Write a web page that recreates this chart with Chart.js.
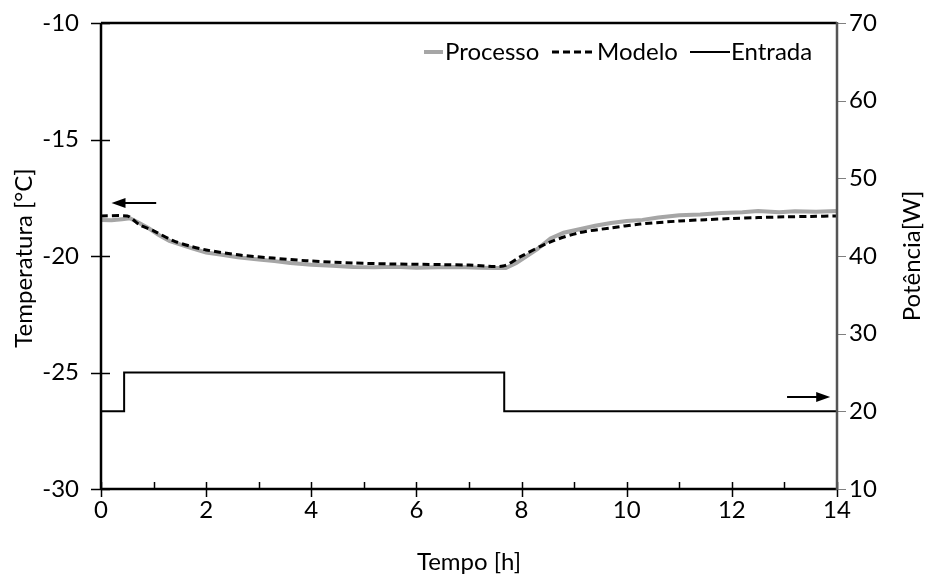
<!DOCTYPE html>
<html>
<head>
<meta charset="utf-8">
<script src="https://cdn.jsdelivr.net/npm/chart.js@4.4.0/dist/chart.umd.min.js"></script>
<style>
  html, body { margin: 0; padding: 0; background: #fff; }
</style>
</head>
<body>
<canvas id="chart" width="931" height="578"></canvas>
<script>
// Dados
const processTime = [0, 0.2, 0.4, 0.55, 0.7, 0.9, 1.1, 1.3, 1.5, 1.75, 2.0, 2.3, 2.6, 3.0, 3.3, 3.6, 4.0, 4.4, 4.8, 5.2, 5.6, 6.0, 6.4, 6.8, 7.2, 7.5, 7.7, 7.9, 8.1, 8.3, 8.55, 8.8, 9.1, 9.4, 9.7, 10.0, 10.3, 10.6, 11.0, 11.4, 11.8, 12.2, 12.5, 12.9, 13.2, 13.6, 14.0];
const processTemp = [-18.45, -18.47, -18.42, -18.38, -18.55, -18.8, -19.1, -19.35, -19.5, -19.68, -19.85, -19.95, -20.05, -20.15, -20.22, -20.3, -20.38, -20.42, -20.47, -20.48, -20.46, -20.5, -20.48, -20.47, -20.5, -20.52, -20.52, -20.3, -20.0, -19.7, -19.25, -19.0, -18.85, -18.7, -18.58, -18.5, -18.45, -18.35, -18.25, -18.22, -18.15, -18.12, -18.07, -18.12, -18.08, -18.1, -18.07];

const modelTime = [0, 0.5, 0.6, 0.74, 1.0, 1.37, 1.7, 2.0, 2.64, 3.27, 3.9, 4.8, 5.5, 6.5, 7.0, 7.65, 7.97, 8.54, 9.1, 9.68, 10.25, 11.0, 11.5, 12.0, 12.5, 13.0, 13.5, 14.0];
const modelTemp = [-18.28, -18.28, -18.42, -18.67, -18.92, -19.34, -19.58, -19.74, -19.96, -20.09, -20.2, -20.3, -20.34, -20.37, -20.39, -20.43, -20.04, -19.4, -19.0, -18.8, -18.63, -18.5, -18.44, -18.39, -18.35, -18.32, -18.3, -18.28];

const inputTime = [0, 0.44, 0.44, 7.67, 7.67, 14];
const inputPower = [20, 20, 25, 25, 20, 20];

const xTicks = [0, 2, 4, 6, 8, 10, 12, 14];
const xMinorTicks = [1, 3, 5, 7, 9, 11, 13];
const tempTicks = [-30, -25, -20, -15, -10];
const powerTicks = [10, 20, 30, 40, 50, 60, 70];

const FONT = 'Lato, "Open Sans", sans-serif';

const toPoints = (xs, ys) => xs.map((x, i) => ({ x: x, y: ys[i] }));

// Eixos, marcas, setas, legenda e títulos
const decorPlugin = {
    id: 'decor',
    afterDatasetsDraw(chart) {
        const ctx = chart.ctx;
        const a = chart.chartArea;
        const sx = chart.scales.x, sy = chart.scales.y, sy2 = chart.scales.y2;
        ctx.save();

        // marcas do eixo esquerdo (cruzando)
        ctx.strokeStyle = '#000';
        ctx.lineWidth = 1.5;
        tempTicks.forEach(v => {
            const y = Math.round(sy.getPixelForValue(v)) + 0.5;
            ctx.beginPath(); ctx.moveTo(a.left - 10, y); ctx.lineTo(a.left + 9, y); ctx.stroke();
        });
        // marcas do eixo x
        xTicks.forEach(v => {
            const x = Math.round(sx.getPixelForValue(v)) + 0.5;
            ctx.beginPath(); ctx.moveTo(x, a.bottom - 7); ctx.lineTo(x, a.bottom + 8); ctx.stroke();
        });
        xMinorTicks.forEach(v => {
            const x = Math.round(sx.getPixelForValue(v)) + 0.5;
            ctx.beginPath(); ctx.moveTo(x, a.bottom - 7); ctx.lineTo(x, a.bottom); ctx.stroke();
        });
        // marcas do eixo direito (para fora, cinza)
        ctx.strokeStyle = '#808080';
        ctx.lineWidth = 1;
        powerTicks.forEach(v => {
            const y = Math.round(sy2.getPixelForValue(v)) + 0.5;
            ctx.beginPath(); ctx.moveTo(a.right, y); ctx.lineTo(a.right + 9, y); ctx.stroke();
        });

        // linhas dos eixos
        ctx.lineWidth = 2.5;
        ctx.strokeStyle = '#000';
        ctx.beginPath();
        ctx.moveTo(a.left, a.top); ctx.lineTo(a.right, a.top);
        ctx.moveTo(a.left, a.top); ctx.lineTo(a.left, a.bottom);
        ctx.moveTo(a.left, a.bottom); ctx.lineTo(a.right, a.bottom);
        ctx.stroke();
        ctx.strokeStyle = '#555';
        ctx.beginPath();
        ctx.moveTo(a.right, a.top - 1); ctx.lineTo(a.right, a.bottom + 1);
        ctx.stroke();

        // setas
        const arrow = (x1, x2, y) => {
            const dir = Math.sign(x2 - x1);
            ctx.strokeStyle = '#000';
            ctx.fillStyle = '#000';
            ctx.lineWidth = 2;
            ctx.beginPath(); ctx.moveTo(x1, y); ctx.lineTo(x2 - dir * 8, y); ctx.stroke();
            ctx.beginPath();
            ctx.moveTo(x2, y);
            ctx.lineTo(x2 - dir * 14, y - 5);
            ctx.lineTo(x2 - dir * 14, y + 5);
            ctx.closePath(); ctx.fill();
        };
        arrow(sx.getPixelForValue(1.05), sx.getPixelForValue(0.2), sy.getPixelForValue(-17.73));
        arrow(sx.getPixelForValue(13.05), sx.getPixelForValue(13.87), sy2.getPixelForValue(21.84));

        // legenda
        ctx.font = '24px ' + FONT;
        ctx.textBaseline = 'middle';
        ctx.textAlign = 'left';
        ctx.fillStyle = '#000';
        const ly = 52;
        ctx.lineWidth = 4; ctx.strokeStyle = '#a6a6a6'; ctx.setLineDash([]);
        ctx.beginPath(); ctx.moveTo(424, ly); ctx.lineTo(443, ly); ctx.stroke();
        ctx.fillText('Processo', 445, ly);
        ctx.lineWidth = 3; ctx.strokeStyle = '#000'; ctx.setLineDash([7, 4]);
        ctx.beginPath(); ctx.moveTo(552, ly); ctx.lineTo(595, ly); ctx.stroke();
        ctx.setLineDash([]);
        ctx.fillText('Modelo', 597, ly);
        ctx.lineWidth = 2;
        ctx.beginPath(); ctx.moveTo(690, ly); ctx.lineTo(730, ly); ctx.stroke();
        ctx.fillText('Entrada', 731, ly);

        // títulos
        ctx.textAlign = 'center';
        ctx.fillText('Tempo [h]', 469, 562);
        ctx.save();
        ctx.translate(24, 258); ctx.rotate(-Math.PI / 2);
        ctx.fillText('Temperatura [°C]', 0, 0);
        ctx.restore();
        ctx.save();
        ctx.translate(912, 256); ctx.rotate(-Math.PI / 2);
        ctx.fillText('Potência[W]', 0, 0);
        ctx.restore();

        ctx.restore();
    }
};

const tickFont = { family: FONT, size: 24 };

// largura fixa do eixo vertical, sem margem extra para os rótulos
const fixVertical = w => s => { s.width = w; s.paddingTop = 0; s.paddingBottom = 0; };

const chart = new Chart(document.getElementById('chart'), {
    type: 'line',
    data: {
        datasets: [
            {
                label: 'Processo',
                data: toPoints(processTime, processTemp),
                yAxisID: 'y',
                borderColor: '#a6a6a6',
                borderWidth: 4,
                pointRadius: 0,
                tension: 0,
                order: 1
            },
            {
                label: 'Modelo',
                data: toPoints(modelTime, modelTemp),
                yAxisID: 'y',
                borderColor: '#000',
                borderWidth: 3,
                borderDash: [7, 4],
                pointRadius: 0,
                tension: 0.3,
                order: 0
            },
            {
                label: 'Entrada',
                data: toPoints(inputTime, inputPower),
                yAxisID: 'y2',
                borderColor: '#000',
                borderWidth: 2,
                pointRadius: 0,
                tension: 0,
                order: 2
            }
        ]
    },
    options: {
        responsive: false,
        animation: false,
        devicePixelRatio: 1,
        layout: { padding: { top: 23, left: 0, right: 0, bottom: 0 } },
        plugins: { legend: { display: false }, tooltip: { enabled: false } },
        scales: {
            x: {
                type: 'linear',
                min: 0, max: 14,
                afterFit: s => { s.height = 89; s.paddingLeft = 0; s.paddingRight = 0; },
                afterBuildTicks: s => { s.ticks = xTicks.map(v => ({ value: v })); },
                grid: { display: false, drawTicks: false },
                border: { display: false },
                ticks: { font: tickFont, color: '#000', padding: 7, maxRotation: 0 }
            },
            y: {
                position: 'left',
                min: -30, max: -10,
                afterFit: fixVertical(101),
                afterBuildTicks: s => { s.ticks = tempTicks.map(v => ({ value: v })); },
                grid: { display: false, drawTicks: false },
                border: { display: false },
                ticks: { font: tickFont, color: '#000', padding: 22 }
            },
            y2: {
                position: 'right',
                min: 10, max: 70,
                afterFit: fixVertical(94),
                afterBuildTicks: s => { s.ticks = powerTicks.map(v => ({ value: v })); },
                grid: { display: false, drawTicks: false },
                border: { display: false },
                ticks: { font: tickFont, color: '#000', padding: 12 }
            }
        }
    },
    plugins: [decorPlugin]
});
</script>
</body>
</html>
